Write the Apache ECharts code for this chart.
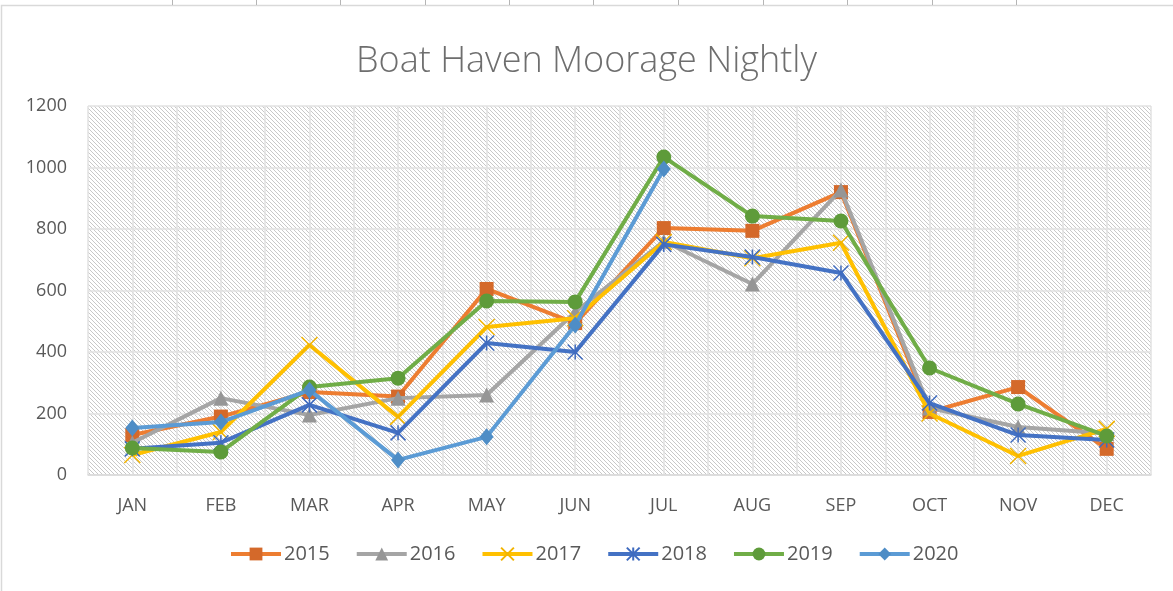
<!DOCTYPE html>
<html>
<head>
<meta charset="utf-8">
<script src="https://cdn.jsdelivr.net/npm/echarts@6/dist/echarts.min.js"></script>
<style>
  html, body { margin: 0; padding: 0; background: #fff; }
  #chartArea { width: 1173px; height: 591px; }
</style>
</head>
<body>
<div id="chartArea"></div>
<script>
// 데이터
const months = ['JAN', 'FEB', 'MAR', 'APR', 'MAY', 'JUN', 'JUL', 'AUG', 'SEP', 'OCT', 'NOV', 'DEC'];
const years = ['2015', '2016', '2017', '2018', '2019', '2020'];
const v2015 = [130, 190, 270, 255, 605, 494, 803, 794, 920, 205, 286, 85];
const v2016 = [105, 250, 195, 250, 260, 530, 760, 621, 927, 218, 156, 135];
const v2017 = [65, 140, 423, 189, 481, 510, 758, 705, 755, 200, 62, 150];
const v2018 = [85, 105, 228, 137, 429, 400, 750, 709, 657, 234, 130, 114];
const v2019 = [88, 75, 286, 315, 566, 563, 1034, 842, 826, 348, 231, 127];
const v2020 = [153, 172, 276, 49, 124, 488, 995];
const yTicks = [0, 200, 400, 600, 800, 1000, 1200];

const lineColors = ['#ED7D31', '#A5A5A5', '#FFC000', '#4472C4', '#70AD47', '#5B9BD5'];
const markColors = ['#D4692A', '#969696', '#F2B400', '#3F6BBF', '#5E9B3A', '#4E8DC6'];
const symbols = [
  'rect',
  'triangle',
  'path://M0,0L10,10M10,0L0,10',
  'path://M5,0L5,10M0,0L10,10M10,0L0,10',
  'circle',
  'diamond'
];
const symbolSizes = [14, 15, 16, 15, 15, [14, 17]];
const allValues = [v2015, v2016, v2017, v2018, v2019, v2020];

// 빗금 배경
function hatchPattern() {
  let c = document.createElement('canvas');
  c.width = 4;
  c.height = 4;
  let ctx = c.getContext('2d');
  ctx.fillStyle = '#ffffff';
  ctx.fillRect(0, 0, 4, 4);
  ctx.fillStyle = '#c8c8c8';
  for (let i = 0; i < 4; i++) {
    ctx.fillRect(i, i, 1, 1);
  }
  return c;
}

const chartDom = document.getElementById('chartArea');
let myChart = echarts.init(chartDom);
let option;

let seriesList = years.map(function (y, i) {
  let isPath = symbols[i].indexOf('path://') === 0;
  return {
    name: y,
    type: 'line',
    data: allValues[i],
    xAxisIndex: 0,
    symbol: symbols[i],
    symbolSize: symbolSizes[i],
    showAllSymbol: true,
    lineStyle: { color: lineColors[i], width: 4 },
    itemStyle: isPath
      ? { color: markColors[i], borderColor: markColors[i], borderWidth: 1.5 }
      : { color: markColors[i], borderWidth: 0 },
    emphasis: { disabled: true },
    z: 3 + i
  };
});

// 반칸 세로 격자선
let halfCats = [];
for (let i = 0; i < months.length * 2; i++) halfCats.push('');

// 위쪽 셀 눈금
let topTicks = [172, 256, 340, 425, 509, 593, 678, 763, 847, 932, 1016].map(function (x) {
  return {
    type: 'line',
    shape: { x1: x + 0.5, y1: 0, x2: x + 0.5, y2: 5 },
    style: { stroke: '#b5b5b5', lineWidth: 1 },
    silent: true
  };
});

option = {
  animation: false,
  backgroundColor: '#ffffff',
  title: {
    text: 'Boat Haven Moorage Nightly',
    left: 'center',
    top: 39,
    textStyle: {
      fontFamily: 'Open Sans',
      fontWeight: 300,
      fontSize: 36,
      color: '#6e6e6e'
    }
  },
  legend: {
    data: years,
    bottom: 22,
    left: 224,
    itemWidth: 50,
    itemHeight: 16,
    itemGap: 25,
    lineStyle: { width: 4 },
    textStyle: {
      fontFamily: 'Open Sans',
      fontSize: 20,
      color: '#595959',
      padding: [0, 0, 0, -2]
    }
  },
  grid: {
    left: 88,
    right: 22,
    top: 106,
    bottom: 116,
    show: true,
    backgroundColor: { image: hatchPattern(), repeat: 'repeat' },
    borderWidth: 0
  },
  xAxis: [
    {
      type: 'category',
      data: months,
      boundaryGap: true,
      axisLine: { lineStyle: { color: '#d9d9d9', width: 1.5 } },
      axisTick: { show: false },
      splitLine: { show: false },
      axisLabel: {
        fontFamily: 'Open Sans',
        fontSize: 18,
        color: '#595959',
        margin: 22
      }
    },
    {
      type: 'category',
      data: halfCats,
      boundaryGap: true,
      position: 'bottom',
      axisLine: { show: false },
      axisTick: { show: false },
      axisLabel: { show: false },
      splitLine: { show: true, lineStyle: { color: '#e2e2e2', width: 1.5 } }
    }
  ],
  yAxis: {
    type: 'value',
    min: yTicks[0],
    max: yTicks[yTicks.length - 1],
    interval: 200,
    axisLine: { show: false },
    axisTick: { show: false },
    splitLine: { lineStyle: { color: '#e2e2e2', width: 1.5 } },
    axisLabel: {
      fontFamily: 'Open Sans',
      fontSize: 18,
      color: '#595959',
      margin: 21,
      formatter: function (v) { return String(v); }
    }
  },
  graphic: [
    {
      type: 'rect',
      shape: { x: 1.5, y: 5.5, width: 1175, height: 590 },
      style: { fill: 'none', stroke: '#d9d9d9', lineWidth: 1.5 },
      silent: true
    }
  ].concat(topTicks),
  series: seriesList
};

option && myChart.setOption(option);
</script>
</body>
</html>
